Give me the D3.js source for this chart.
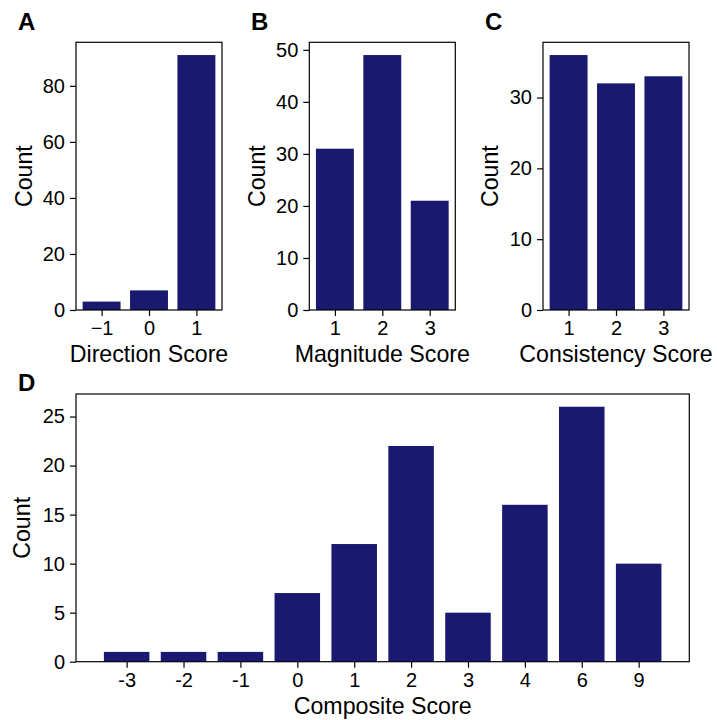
<!DOCTYPE html>
<html>
<head>
<meta charset="utf-8">
<script src="https://cdn.jsdelivr.net/npm/d3@7"></script>
<style>
  body { margin: 0; background: #fff; }
  svg text { font-family: "Liberation Sans", Arial, Helvetica, sans-serif; fill: #000; }
</style>
</head>
<body>
<svg id="chart" width="717" height="720"></svg>
<script>
// ---- Data ----
const directionCategories = ["\u22121", "0", "1"];
const directionCounts = [3, 7, 91];
const directionTicks = [0, 20, 40, 60, 80];

const magnitudeCategories = ["1", "2", "3"];
const magnitudeCounts = [31, 49, 21];
const magnitudeTicks = [0, 10, 20, 30, 40, 50];

const consistencyCategories = ["1", "2", "3"];
const consistencyCounts = [36, 32, 33];
const consistencyTicks = [0, 10, 20, 30];

const compositeCategories = ["-3", "-2", "-1", "0", "1", "2", "3", "4", "6", "9"];
const compositeCounts = [1, 1, 1, 7, 12, 22, 5, 16, 26, 10];
const compositeTicks = [0, 5, 10, 15, 20, 25];

const barColor = "#191970";
const tickFont = 20;
const labelFont = 23.2;

const svg = d3.select("#chart");

function panel(opts) {
  const { x0, x1, y0, y1, cats, vals, ticks, xlabel, letter, letterPos, ylabelX } = opts;
  const n = cats.length;
  // matplotlib-like: bars width 0.8, 5% margins on data range
  const lo = -0.4, hi = (n - 1) + 0.4, m = (hi - lo) * 0.05;
  const x = d3.scaleLinear().domain([lo - m, hi + m]).range([x0, x1]);
  const ymax = d3.max(vals) * 1.05;
  const y = d3.scaleLinear().domain([0, ymax]).range([y1, y0]);
  const g = svg.append("g");

  g.selectAll("rect.bar").data(vals).enter().append("rect")
    .attr("class", "bar")
    .attr("x", (d, i) => x(i - 0.4))
    .attr("width", (d, i) => x(i + 0.4) - x(i - 0.4))
    .attr("y", d => y(d))
    .attr("height", d => y(0) - y(d))
    .attr("fill", barColor);

  // axes
  const xAxis = d3.axisBottom(x).tickValues(d3.range(n)).tickFormat(i => cats[i])
    .tickSize(6).tickPadding(5);
  const gx = g.append("g").attr("transform", `translate(0,${y1})`).call(xAxis);
  gx.select(".domain").remove();
  gx.selectAll("text").attr("font-size", tickFont).style("font-family", "'Liberation Sans', Arial, sans-serif");
  gx.selectAll("line").attr("stroke", "#000").attr("stroke-width", 1.2);

  const yAxis = d3.axisLeft(y).tickValues(ticks).tickSize(6).tickPadding(5);
  const gy = g.append("g").attr("transform", `translate(${x0},0)`).call(yAxis);
  gy.select(".domain").remove();
  gy.selectAll("text").attr("font-size", tickFont).style("font-family", "'Liberation Sans', Arial, sans-serif");
  gy.selectAll("line").attr("stroke", "#000").attr("stroke-width", 1.2);

  // frame
  g.append("rect").attr("x", x0).attr("y", y0).attr("width", x1 - x0).attr("height", y1 - y0)
    .attr("fill", "none").attr("stroke", "#000").attr("stroke-width", 1.2);

  // labels
  g.append("text").attr("x", (x0 + x1) / 2).attr("y", y1 + 52)
    .attr("text-anchor", "middle").attr("font-size", labelFont).text(xlabel);
  g.append("text").attr("transform", `translate(${ylabelX},${(y0 + y1) / 2}) rotate(-90)`)
    .attr("text-anchor", "middle").attr("dy", "0.35em").attr("font-size", labelFont).text("Count");
  g.append("text").attr("x", letterPos[0]).attr("y", letterPos[1])
    .attr("font-size", 24).attr("font-weight", "bold").text(letter);
}

panel({ x0: 76, x1: 222, y0: 42.3, y1: 310, cats: directionCategories, vals: directionCounts,
  ticks: directionTicks, xlabel: "Direction Score", letter: "A", letterPos: [18, 30], ylabelX: 24 });
panel({ x0: 309.3, x1: 455.3, y0: 42.3, y1: 310, cats: magnitudeCategories, vals: magnitudeCounts,
  ticks: magnitudeTicks, xlabel: "Magnitude Score", letter: "B", letterPos: [251, 30], ylabelX: 257 });
panel({ x0: 543, x1: 689, y0: 42.3, y1: 310, cats: consistencyCategories, vals: consistencyCounts,
  ticks: consistencyTicks, xlabel: "Consistency Score", letter: "C", letterPos: [485, 30], ylabelX: 490 });
panel({ x0: 76, x1: 689.3, y0: 394, y1: 661.7, cats: compositeCategories, vals: compositeCounts,
  ticks: compositeTicks, xlabel: "Composite Score", letter: "D", letterPos: [18, 391], ylabelX: 22 });
</script>
</body>
</html>
